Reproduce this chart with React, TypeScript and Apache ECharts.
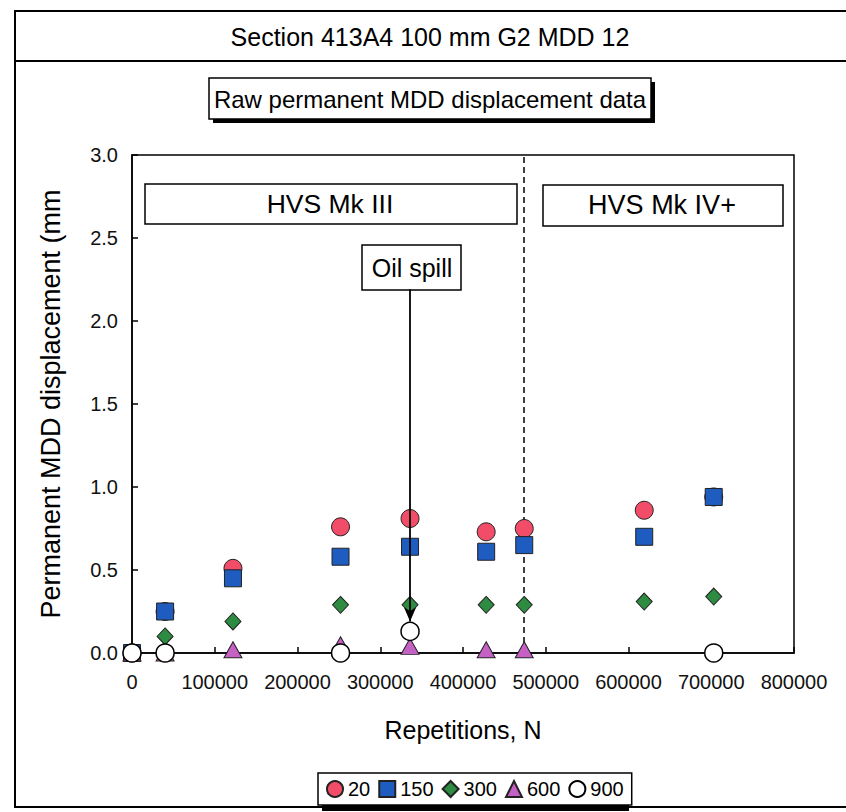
import React, { useEffect, useRef } from "react";
import * as echarts from "echarts";

const reps = [0, 40000, 122000, 252000, 336000, 428000, 474000, 619000, 703000];
const d20 = [0, 0.25, 0.51, 0.76, 0.81, 0.73, 0.75, 0.86, 0.94];
const d150 = [0, 0.25, 0.45, 0.58, 0.64, 0.61, 0.65, 0.7, 0.94];
const d300 = [0, 0.1, 0.19, 0.29, 0.29, 0.29, 0.29, 0.31, 0.34];
const d600 = [0, 0, 0.02, 0.05, 0.04, 0.02, 0.02, null, null];
const d900 = [0, 0, null, 0, 0.13, null, null, null, 0];
const depthNames = ["20", "150", "300", "600", "900"];
const phaseChange = 474000;
const oilSpillAt = 336000;

const FONT = "Liberation Sans, Arial, sans-serif";

function pairs(vals: (number | null)[]) {
  return reps.map((x, i) => [x, vals[i]]).filter((p) => p[1] !== null);
}

export default function App() {
  const ref = useRef<HTMLDivElement>(null);
  useEffect(() => {
    document.body.style.margin = "0";
    const chart = echarts.init(ref.current!, null, { renderer: "svg" });
    const border = { borderColor: "#222", borderWidth: 1, opacity: 1 };
    const option: any = {
      animation: false,
      backgroundColor: "#fff",
      textStyle: { fontFamily: FONT },
      grid: {
        left: 132,
        right: 52,
        top: 155,
        bottom: 159,
        show: true,
        borderColor: "#000",
        borderWidth: 1.5,
        backgroundColor: "transparent",
      },
      xAxis: {
        type: "value",
        min: 0,
        max: 800000,
        interval: 100000,
        name: "Repetitions, N",
        nameLocation: "middle",
        nameGap: 64,
        nameTextStyle: { fontSize: 25, color: "#000", fontFamily: FONT },
        axisLine: { lineStyle: { color: "#000", width: 1.5 } },
        axisTick: { inside: true, length: 6, lineStyle: { color: "#000", width: 1.5 } },
        axisLabel: {
          margin: 19,
          fontSize: 20,
          color: "#111",
          fontFamily: FONT,
          formatter: (v: number) => String(v),
        },
        splitLine: { show: false },
      },
      yAxis: {
        type: "value",
        min: 0,
        max: 3,
        interval: 0.5,
        name: "Permanent MDD displacement (mm",
        nameLocation: "middle",
        nameGap: 68,
        nameTextStyle: { fontSize: 27, color: "#000", fontFamily: FONT },
        axisLine: { show: true, lineStyle: { color: "#000", width: 1.5 } },
        axisTick: { show: true, inside: true, length: 6, lineStyle: { color: "#000", width: 1.5 } },
        axisLabel: {
          margin: 14,
          fontSize: 20,
          color: "#111",
          fontFamily: FONT,
          formatter: (v: number) => v.toFixed(1),
        },
        splitLine: { show: false },
      },
      legend: {
        left: 318,
        top: 773,
        data: depthNames,
        orient: "horizontal",
        itemWidth: 16,
        itemHeight: 16,
        itemGap: 8,
        padding: [6, 8, 6, 8],
        backgroundColor: "#fff",
        borderColor: "#000",
        borderWidth: 1.5,
        borderRadius: 0,
        textStyle: { fontSize: 20, color: "#000", fontFamily: FONT },
        z: 20,
      },
      series: [
        {
          name: depthNames[0],
          type: "scatter",
          symbol: "circle",
          symbolSize: 18,
          itemStyle: { color: "#f24d68", ...border },
          data: pairs(d20),
          z: 3,
        },
        {
          name: depthNames[1],
          type: "scatter",
          symbol: "rect",
          symbolSize: 17,
          itemStyle: { color: "#1f5cbf", ...border },
          data: pairs(d150),
          z: 4,
        },
        {
          name: depthNames[2],
          type: "scatter",
          symbol: "diamond",
          symbolSize: [16, 17],
          itemStyle: { color: "#2e8c42", ...border },
          data: pairs(d300),
          z: 5,
          markLine: {
            silent: true,
            symbol: ["none", "none"],
            label: { show: false },
            lineStyle: { color: "#000", type: [6, 4], width: 1.5 },
            data: [{ xAxis: phaseChange }],
            z: 2,
          },
        },
        {
          name: depthNames[3],
          type: "scatter",
          symbol: "triangle",
          symbolSize: [18, 16],
          itemStyle: { color: "#c560c4", ...border },
          data: pairs(d600),
          z: 6,
        },
        {
          name: depthNames[4],
          type: "scatter",
          symbol: "circle",
          symbolSize: 18,
          itemStyle: { color: "#fff", borderColor: "#000", borderWidth: 1.5, opacity: 1 },
          data: pairs(d900),
          z: 7,
          markLine: {
            silent: true,
            symbol: ["none", "arrow"],
            symbolSize: [9, 14],
            label: { show: false },
            lineStyle: { color: "#000", type: "solid", width: 1.8 },
            data: [[{ coord: [oilSpillAt, 2.19] }, { coord: [oilSpillAt, 0.19] }]],
            z: 10,
          },
        },
      ],
      graphic: [
        // outer frame
        { type: "rect", shape: { x: 15, y: 11, width: 840, height: 796 }, style: { fill: "none", stroke: "#000", lineWidth: 2 }, z: 1 },
        { type: "line", shape: { x1: 15, y1: 61, x2: 846, y2: 61 }, style: { stroke: "#000", lineWidth: 2 }, z: 1 },
        { type: "text", x: 430, y: 37, style: { text: "Section 413A4 100 mm G2 MDD 12", font: `25px ${FONT}`, fill: "#000", textAlign: "center", textVerticalAlign: "middle" }, z: 5 },
        // subtitle box with shadow
        { type: "rect", shape: { x: 213, y: 82, width: 442, height: 41 }, style: { fill: "#000" }, z: 4 },
        { type: "rect", shape: { x: 209, y: 78, width: 442, height: 41 }, style: { fill: "#fff", stroke: "#000", lineWidth: 1.5 }, z: 5 },
        { type: "text", x: 430, y: 99, style: { text: "Raw permanent MDD displacement data", font: `24px ${FONT}`, fill: "#000", textAlign: "center", textVerticalAlign: "middle" }, z: 6 },
        // HVS boxes
        { type: "rect", shape: { x: 145, y: 184, width: 372, height: 40 }, style: { fill: "#fff", stroke: "#000", lineWidth: 1.5 }, z: 5 },
        { type: "text", x: 330, y: 204, style: { text: "HVS Mk III", font: `26.5px ${FONT}`, fill: "#000", textAlign: "center", textVerticalAlign: "middle" }, z: 6 },
        { type: "rect", shape: { x: 543, y: 185, width: 240, height: 41 }, style: { fill: "#fff", stroke: "#000", lineWidth: 1.5 }, z: 5 },
        { type: "text", x: 662, y: 205, style: { text: "HVS Mk IV+", font: `27px ${FONT}`, fill: "#000", textAlign: "center", textVerticalAlign: "middle" }, z: 6 },
        // Oil spill box
        { type: "rect", shape: { x: 362, y: 245, width: 99, height: 45 }, style: { fill: "#fff", stroke: "#000", lineWidth: 1.5 }, z: 5 },
        { type: "text", x: 412, y: 268, style: { text: "Oil spill", font: `25px ${FONT}`, fill: "#000", textAlign: "center", textVerticalAlign: "middle" }, z: 6 },
        // legend shadow
        { type: "rect", shape: { x: 322, y: 777, width: 307, height: 34 }, style: { fill: "#000" }, z: 4 },
      ],
    };
    chart.setOption(option);
    return () => chart.dispose();
  }, []);
  return (
    <div
      ref={ref}
      style={{ position: "absolute", left: 0, top: 0, width: 846, height: 812 }}
    />
  );
}
